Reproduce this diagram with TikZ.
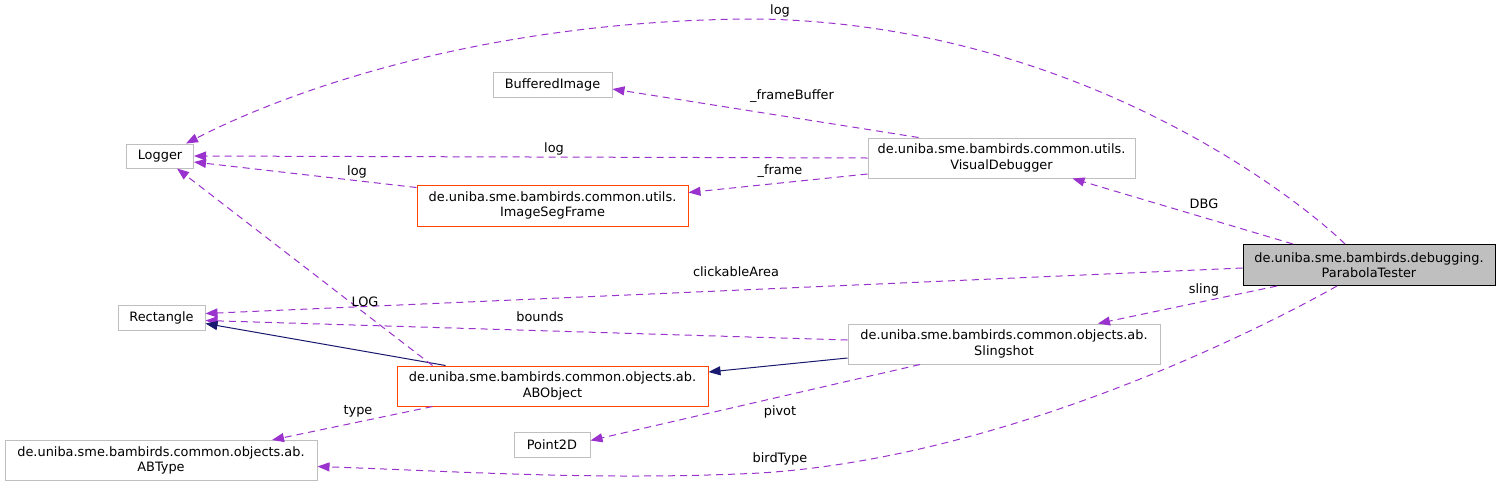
\documentclass[tikz,border=0pt]{standalone}
\usepackage{fontspec}
\setmainfont{DejaVu Sans}
\usetikzlibrary{arrows.meta}
\definecolor{edgep}{HTML}{9A32CD}
\definecolor{navyc}{HTML}{191970}
\definecolor{boxg}{HTML}{BFBFBF}
\definecolor{orng}{HTML}{FF4500}
\tikzset{
  cls/.style={draw=boxg, line width=1pt, inner sep=0pt, align=center, font=\fontsize{12.9}{15.5}\selectfont},
  hcls/.style={cls, draw=black, fill=boxg},
  ocls/.style={cls, draw=orng},
  rel/.style={draw=edgep, line width=1pt, dash pattern=on 7pt off 5pt, -{Triangle[length=12pt,width=9pt]}},
  inh/.style={draw=navyc, line width=1pt, -{Triangle[length=12pt,width=9pt]}},
  lbl/.style={inner sep=0pt, font=\fontsize{12.9}{15.5}\selectfont}
}
\begin{document}
\begin{tikzpicture}[x=1pt,y=-1pt]
\useasboundingbox[fill=white] (0,0) rectangle (1500,483);
% nodes
\node[hcls, minimum width=252pt, minimum height=41pt] (PT) at (1369,265) {de.uniba.sme.bambirds.debugging.\\ParabolaTester};
\node[cls, minimum width=267pt, minimum height=40pt] (VD) at (1001.5,158) {de.uniba.sme.bambirds.common.utils.\\VisualDebugger};
\node[cls, minimum width=119pt, minimum height=25pt] (BI) at (552.5,85) {BufferedImage};
\node[cls, minimum width=67pt, minimum height=24pt] (LG) at (160,156) {Logger};
\node[ocls, minimum width=271pt, minimum height=41pt] (IS) at (552.5,205.5) {de.uniba.sme.bambirds.common.utils.\\ImageSegFrame};
\node[cls, minimum width=87pt, minimum height=25pt] (RC) at (161.5,317.5) {Rectangle};
\node[ocls, minimum width=311pt, minimum height=40pt] (AO) at (552.5,386) {de.uniba.sme.bambirds.common.objects.ab.\\ABObject};
\node[cls, minimum width=312pt, minimum height=40pt] (SL) at (1004,344) {de.uniba.sme.bambirds.common.objects.ab.\\Slingshot};
\node[cls, minimum width=312pt, minimum height=40pt] (AT) at (161,460.5) {de.uniba.sme.bambirds.common.objects.ab.\\ABType};
\node[cls, minimum width=76pt, minimum height=25pt] (P2) at (552,444.5) {Point2D};
% edges
\draw[rel] ([xshift=-24pt]PT.north) .. controls (1300,200) and (1080,25) .. (760,19)
  .. controls (500,19) and (300,85) .. ([xshift=-8pt]LG.north east);
\node[lbl] (l1) at (780,11) {log};
\draw[rel] ([xshift=-83pt]VD.north) -- ([yshift=-4pt]BI.east);
\node[lbl] (l2) at (792,96) {\_frameBuffer};
\draw[rel] (VD.west) -- (LG.east);
\node[lbl] (l3) at (554,149) {log};
\draw[rel] ([yshift=-16pt]VD.west) -- ([yshift=13pt]IS.east);
\node[lbl] (l4) at (780,171) {\_frame};
\draw[rel] ([yshift=-3pt]IS.north west) -- ([yshift=-6pt]LG.east);
\node[lbl] (l5) at (357,172) {log};
\draw[rel] ([xshift=-76pt]PT.north) -- ([xshift=71pt]VD.south);
\node[lbl] (l6) at (1204,204) {DBG};
\draw[rel] ([yshift=-3pt]PT.west) -- ([yshift=4pt]RC.east);
\node[lbl] (l7) at (736,272) {clickableArea};
\draw[rel] ([xshift=-92pt]PT.south) -- ([xshift=94pt]SL.north);
\node[lbl] (l8) at (1204,290) {sling};
\draw[rel] ([xshift=-32pt]PT.south) .. controls (1250,335) and (1000,458) .. (760,473)
  .. controls (600,481) and (450,471) .. ([yshift=-6pt]AT.east);
\node[lbl] (l9) at (780,459) {birdType};
\draw[rel] ([yshift=4pt]SL.west) -- ([yshift=-3pt]RC.east);
\node[lbl] (l10) at (540,317) {bounds};
\draw[inh] ([yshift=-14pt]SL.west) -- ([yshift=14pt]AO.east);
\draw[inh] ([xshift=-107pt]AO.north) -- ([yshift=-6pt]RC.east);
\draw[rel] ([xshift=-120pt]AO.north) -- ([xshift=17pt]LG.south);
\node[lbl] (l11) at (365,302) {LOG};
\draw[rel] ([xshift=-120pt]AO.south) -- ([xshift=111pt]AT.north);
\node[lbl] (l12) at (358,411) {type};
\draw[rel] ([xshift=-84pt]SL.south) -- ([yshift=4pt]P2.east);
\node[lbl] (l13) at (780,412) {pivot};
\end{tikzpicture}
\end{document}
